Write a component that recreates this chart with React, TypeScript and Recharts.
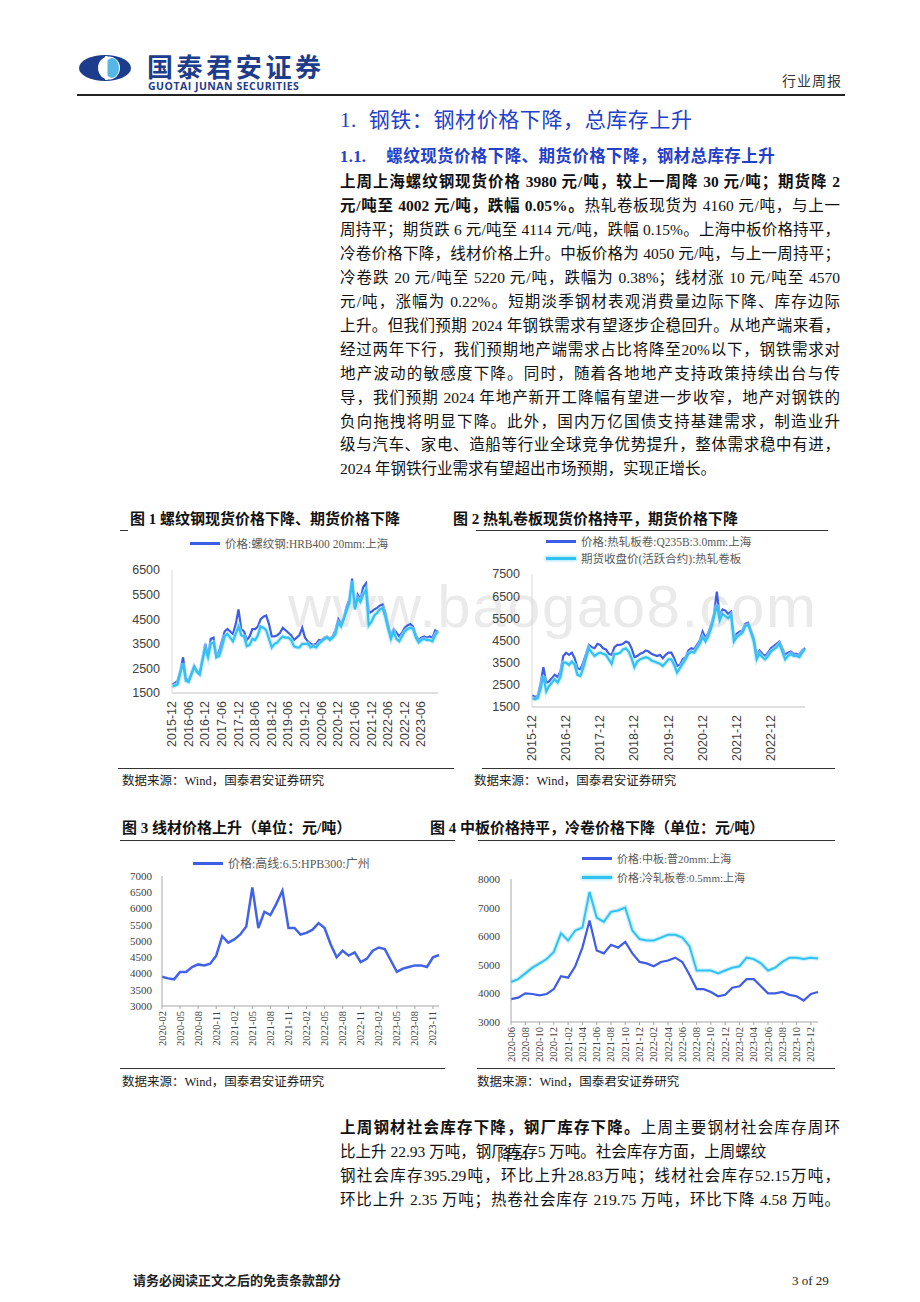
import React from "react";
import { LineChart, Line, XAxis, YAxis } from "recharts";

// 图1、图2 月度横轴
const monthsLong = [
  "2015-12",
  "2016-01", "2016-02", "2016-03", "2016-04", "2016-05", "2016-06", "2016-07", "2016-08", "2016-09", "2016-10", "2016-11", "2016-12",
  "2017-01", "2017-02", "2017-03", "2017-04", "2017-05", "2017-06", "2017-07", "2017-08", "2017-09", "2017-10", "2017-11", "2017-12",
  "2018-01", "2018-02", "2018-03", "2018-04", "2018-05", "2018-06", "2018-07", "2018-08", "2018-09", "2018-10", "2018-11", "2018-12",
  "2019-01", "2019-02", "2019-03", "2019-04", "2019-05", "2019-06", "2019-07", "2019-08", "2019-09", "2019-10", "2019-11", "2019-12",
  "2020-01", "2020-02", "2020-03", "2020-04", "2020-05", "2020-06", "2020-07", "2020-08", "2020-09", "2020-10", "2020-11", "2020-12",
  "2021-01", "2021-02", "2021-03", "2021-04", "2021-05", "2021-06", "2021-07", "2021-08", "2021-09", "2021-10", "2021-11", "2021-12",
  "2022-01", "2022-02", "2022-03", "2022-04", "2022-05", "2022-06", "2022-07", "2022-08", "2022-09", "2022-10", "2022-11", "2022-12",
  "2023-01", "2023-02", "2023-03", "2023-04", "2023-05", "2023-06", "2023-07", "2023-08", "2023-09", "2023-10", "2023-11", "2023-12",
];
const xTicks1 = [
  "2015-12", "2016-06", "2016-12", "2017-06", "2017-12", "2018-06", "2018-12", "2019-06",
  "2019-12", "2020-06", "2020-12", "2021-06", "2021-12", "2022-06", "2022-12", "2023-06",
];
const xTicks2 = ["2015-12", "2016-12", "2017-12", "2018-12", "2019-12", "2020-12", "2021-12", "2022-12"];

// 螺纹钢 HRB400 20mm 上海 现货
const rebarSpot = [
  1850,
  1900, 2000, 2400, 2950, 2100, 2000, 2300, 2600, 2400, 2300, 2900, 3500,
  3050, 3700, 3750, 3000, 3200, 3600, 4000, 4100, 4000, 3900, 4300, 4900,
  4100, 4000, 3650, 3800, 4100, 4100, 4200, 4500, 4600, 4650, 4300, 3800,
  3800, 3850, 3950, 4150, 4050, 3950, 3850, 3650, 3750, 3850, 4150, 3750,
  3600, 3500, 3450, 3500, 3650, 3650, 3750, 3800, 3700, 3800, 4050, 4500,
  4300, 4550, 5000, 5300, 6150, 5000, 5500, 5300, 5800, 5950, 4750, 4800,
  4900, 4950, 5050, 5100, 4750, 4250, 3850, 4100, 3950, 3800, 3950, 4150,
  4250, 4300, 4200, 3850, 3650, 3750, 3800, 3750, 3800, 3750, 4050, 3980,
];

// 螺纹钢期货
const rebarFutures = [
  1750,
  1800, 1850, 2300, 2700, 2000, 1950, 2250, 2550, 2350, 2250, 2800, 3300,
  2950, 3500, 3550, 2950, 3000, 3350, 3800, 3900, 3750, 3600, 3900, 4200,
  3850, 3800, 3400, 3450, 3700, 3650, 3850, 4200, 4150, 4050, 3700, 3350,
  3500, 3550, 3700, 3800, 3750, 3750, 3650, 3400, 3350, 3350, 3500, 3500,
  3500, 3350, 3400, 3350, 3500, 3600, 3700, 3750, 3650, 3750, 3900, 4350,
  4200, 4500, 4850, 5150, 6050, 4900, 5350, 5200, 5500, 5700, 4250, 4400,
  4650, 4750, 4900, 4950, 4600, 4100, 3700, 4000, 3700, 3600, 3800, 4000,
  4100, 4150, 4100, 3750, 3550, 3650, 3700, 3650, 3650, 3600, 3850, 4002,
];

// 热轧板卷 Q235B 3.0mm 上海 现货
const hrcSpot = [
  2030,
  1950, 2000, 2550, 3300, 2600, 2650, 2800, 2950, 2850, 3100, 3800, 3950,
  3850, 3950, 3700, 3250, 3200, 3500, 3900, 4300, 4200, 4150, 4350, 4300,
  4150, 4100, 3900, 3850, 4200, 4300, 4300, 4350, 4450, 4400, 4150, 3750,
  3800, 3900, 3950, 4050, 4000, 3900, 3850, 3800, 3850, 3700, 3850, 3950,
  3950, 3700, 3350, 3400, 3650, 3750, 4050, 4150, 4100, 4300, 4500, 4900,
  4600, 4850, 5200, 5700, 6700, 5600, 5900, 5850, 5700, 5800, 4600, 4800,
  4900, 4950, 5250, 5300, 4950, 4600, 3850, 4050, 3900, 3800, 3950, 4150,
  4250, 4350, 4450, 4150, 3850, 3950, 4000, 3900, 3900, 3850, 4050, 4160,
];

// 热轧卷板期货收盘价(活跃合约)
const hrcFutures = [
  1900,
  1850, 1900, 2300, 2900, 2200, 2450, 2600, 2750, 2600, 2850, 3500, 3500,
  3400, 3550, 3400, 2950, 2900, 3250, 3700, 4150, 3950, 3800, 3900, 3950,
  3900, 3850, 3650, 3450, 3900, 3900, 3950, 4100, 4150, 4000, 3700, 3300,
  3550, 3650, 3700, 3750, 3700, 3600, 3550, 3500, 3450, 3350, 3500, 3650,
  3650, 3400, 3050, 3250, 3450, 3650, 3900, 4000, 3950, 4150, 4350, 4650,
  4450, 4700, 5050, 5550, 6100, 5400, 5700, 5600, 5500, 5650, 4450, 4650,
  4750, 4850, 5150, 5200, 4850, 4450, 3650, 3900, 3750, 3650, 3800, 4000,
  4100, 4200, 4350, 4000, 3650, 3800, 3900, 3800, 3800, 3750, 3950, 4114,
];

// 图3 高线 6.5 HPB300 广州
const monthsWire = [
  "2020-02", "2020-03", "2020-04", "2020-05", "2020-06", "2020-07", "2020-08", "2020-09", "2020-10", "2020-11", "2020-12",
  "2021-01", "2021-02", "2021-03", "2021-04", "2021-05", "2021-06", "2021-07", "2021-08", "2021-09", "2021-10", "2021-11", "2021-12",
  "2022-01", "2022-02", "2022-03", "2022-04", "2022-05", "2022-06", "2022-07", "2022-08", "2022-09", "2022-10", "2022-11", "2022-12",
  "2023-01", "2023-02", "2023-03", "2023-04", "2023-05", "2023-06", "2023-07", "2023-08", "2023-09", "2023-10", "2023-11", "2023-12",
];
const wirePrice = [
  3900, 3850, 3820, 4050, 4050, 4200, 4280, 4250, 4300, 4550, 5150,
  4950, 5050, 5200, 5450, 6650, 5400, 5900, 5800, 6150, 6550, 5400, 5400,
  5200, 5250, 5350, 5550, 5400, 4900, 4500, 4700, 4550, 4650, 4350, 4450,
  4700, 4800, 4750, 4400, 4050, 4150, 4200, 4250, 4250, 4200, 4500, 4570,
];

// 图4 中板 普20mm 上海 / 冷轧板卷 0.5mm 上海
const monthsPlate = [
  "2020-06", "2020-07", "2020-08", "2020-09", "2020-10", "2020-11", "2020-12",
  "2021-01", "2021-02", "2021-03", "2021-04", "2021-05", "2021-06", "2021-07", "2021-08", "2021-09", "2021-10", "2021-11", "2021-12",
  "2022-01", "2022-02", "2022-03", "2022-04", "2022-05", "2022-06", "2022-07", "2022-08", "2022-09", "2022-10", "2022-11", "2022-12",
  "2023-01", "2023-02", "2023-03", "2023-04", "2023-05", "2023-06", "2023-07", "2023-08", "2023-09", "2023-10", "2023-11", "2023-12",
  "2024-01",
];
const platePrice = [
  3800, 3850, 4000, 3980, 3930, 3980, 4150,
  4600, 4550, 4950, 5600, 6550, 5500, 5400, 5700, 5600, 5800, 5400, 5100,
  5050, 4950, 5100, 5150, 5250, 5100, 4650, 4150, 4150, 4050, 3900, 3950,
  4200, 4250, 4500, 4500, 4250, 4000, 4000, 4050, 3950, 3900, 3750, 3980,
  4050,
];
const coldPrice = [
  4400, 4500, 4700, 4900, 5050, 5200, 5450,
  6100, 5850, 6200, 6300, 7550, 6650, 6500, 6850, 6900, 7000, 6200, 5900,
  5850, 5850, 5950, 6050, 6050, 5950, 5650, 4800, 4800, 4800, 4700, 4800,
  4900, 4950, 5250, 5200, 5050, 4800, 4900, 5100, 5250, 5250, 5200, 5250,
  5220,
];

const ticks1 = [1500, 2500, 3500, 4500, 5500, 6500];
const ticks2 = [1500, 2500, 3500, 4500, 5500, 6500, 7500];
const ticks3 = [3000, 3500, 4000, 4500, 5000, 5500, 6000, 6500, 7000];
const ticks4 = [3000, 4000, 5000, 6000, 7000, 8000];

const DARK = "#3f5ce6";
const LIGHT = "#31c2f3";
const GLOW = "#a8e6fb";
const SANS = "'Liberation Sans', Arial, 'Noto Sans CJK SC', sans-serif";
const SERIF = "'Liberation Serif', 'Times New Roman', 'Noto Sans CJK SC', serif";
const CJK = "'Liberation Serif', 'Noto Sans CJK SC', serif";

const data1 = monthsLong.map((m, i) => ({ m, spot: rebarSpot[i], fut: rebarFutures[i] }));
const data2 = monthsLong.map((m, i) => ({ m, spot: hrcSpot[i], fut: hrcFutures[i] }));
const data3 = monthsWire.map((m, i) => ({ m, wire: wirePrice[i] }));
const data4 = monthsPlate.map((m, i) => ({ m, plate: platePrice[i], cold: coldPrice[i] }));

const VTick = (props: any) => {
  const { x, y, payload, fs, ff } = props;
  return (
    <text
      x={x}
      y={y}
      transform={`rotate(-90 ${x} ${y})`}
      textAnchor="end"
      dominantBaseline="central"
      fontSize={fs}
      fontFamily={ff}
      fill="#404040"
    >
      {payload.value}
    </text>
  );
};

const Abs = ({ x, y, children, style }: any) => (
  <div style={{ position: "absolute", left: x, top: y, whiteSpace: "nowrap", ...style }}>{children}</div>
);

const HLine = ({ x1, x2, y, w = 1, color = "#333" }: any) => (
  <div style={{ position: "absolute", left: x1, top: y, width: x2 - x1, height: w, background: color }} />
);

const LegendItem = ({ x, y, color, glow, label, fs = 11.5, ff = CJK }: any) => (
  <div style={{ position: "absolute", left: x, top: y - 8, height: 16, display: "flex", alignItems: "center" }}>
    <div
      style={{
        width: 30,
        height: 3,
        background: color,
        boxShadow: glow ? `0 0 3px 1px ${GLOW}` : "none",
        marginRight: 5,
      }}
    />
    <span style={{ fontSize: fs, fontFamily: ff, color: "#595959", whiteSpace: "nowrap" }}>{label}</span>
  </div>
);

const BodyLine = ({ i, top, children, last }: any) => (
  <div
    style={{
      position: "absolute",
      left: 340,
      top: top + i * 23.95,
      width: 500,
      height: 24,
      lineHeight: "24px",
      fontSize: 15.5,
      fontFamily: CJK,
      color: "#111",
      textAlign: "justify",
      textAlignLast: last ? "left" : "justify",
    }}
  >
    {children}
  </div>
);

const bodyLines: any[] = [
  <b key="a">上周上海螺纹钢现货价格 3980 元/吨，较上一周降 30 元/吨；期货降 2</b>,
  <>
    <b>元/吨至 4002 元/吨，跌幅 0.05%。</b>热轧卷板现货为 4160 元/吨，与上一
  </>,
  "周持平；期货跌 6 元/吨至 4114 元/吨，跌幅 0.15%。上海中板价格持平，",
  "冷卷价格下降，线材价格上升。中板价格为 4050 元/吨，与上一周持平；",
  "冷卷跌 20 元/吨至 5220 元/吨，跌幅为 0.38%；线材涨 10 元/吨至 4570",
  "元/吨，涨幅为 0.22%。短期淡季钢材表观消费量边际下降、库存边际",
  "上升。但我们预期 2024 年钢铁需求有望逐步企稳回升。从地产端来看，",
  "经过两年下行，我们预期地产端需求占比将降至20%以下，钢铁需求对",
  "地产波动的敏感度下降。同时，随着各地地产支持政策持续出台与传",
  "导，我们预期 2024 年地产新开工降幅有望进一步收窄，地产对钢铁的",
  "负向拖拽将明显下降。此外，国内万亿国债支持基建需求，制造业升",
  "级与汽车、家电、造船等行业全球竞争优势提升，整体需求稳中有进，",
  "2024 年钢铁行业需求有望超出市场预期，实现正增长。",
];

export default function App() {
  return (
    <div style={{ position: "relative", width: 920, height: 1302, background: "#fff", overflow: "hidden", fontFamily: CJK }}>
      <style>{`body{margin:0}`}</style>

      {/* 页眉 */}
      <svg style={{ position: "absolute", left: 78, top: 54 }} width={54} height={28}>
        <ellipse cx={27} cy={14} rx={26} ry={13} fill="#1d3d8c" />
        <ellipse cx={31} cy={14} rx={11} ry={11.5} fill="#fff" />
        <ellipse cx={34} cy={14} rx={7} ry={10} fill="#56b6e6" />
        <rect x={27} y={2} width={2.5} height={24} fill="#fff" />
      </svg>
      <Abs x={147} y={51} style={{ fontSize: 26, fontWeight: 700, color: "#1d3d8c", fontFamily: "'Noto Sans CJK SC', sans-serif", letterSpacing: 3.6, lineHeight: "30px" }}>
        国泰君安证券
      </Abs>
      <Abs x={148} y={80} style={{ fontSize: 10.5, fontWeight: 700, color: "#1d3d8c", fontFamily: "'Open Sans', 'Liberation Sans', sans-serif", letterSpacing: 0.5, lineHeight: "12px" }}>
        GUOTAI JUNAN SECURITIES
      </Abs>
      <Abs x={782} y={73} style={{ fontSize: 14, color: "#333", lineHeight: "18px", letterSpacing: 1 }}>
        行业周报
      </Abs>
      <HLine x1={77} x2={845} y={94} w={2} color="#222" />

      {/* 标题 */}
      <Abs x={340} y={106} style={{ fontSize: 21, color: "#2440c8", lineHeight: "28px", letterSpacing: 0.6 }}>
        1.&nbsp;&nbsp;钢铁：钢材价格下降，总库存上升
      </Abs>
      <Abs x={340} y={146} style={{ fontSize: 16.5, fontWeight: 700, color: "#2440c8", lineHeight: "22px", letterSpacing: 0.4 }}>
        1.1.<span style={{ display: "inline-block", width: 20 }} />螺纹现货价格下降、期货价格下降，钢材总库存上升
      </Abs>

      {bodyLines.map((c, i) => (
        <BodyLine key={i} i={i} top={170} last={i === bodyLines.length - 1}>
          {c}
        </BodyLine>
      ))}

      {/* 水印 */}
      <Abs x={288} y={572} style={{ fontSize: 60, color: "rgba(190,190,190,0.33)", fontFamily: SANS, letterSpacing: 1.5, lineHeight: "70px" }}>
        www.baogao8.com
      </Abs>

      {/* 图1 */}
      <Abs x={130} y={509} style={{ fontSize: 15, fontWeight: 700, lineHeight: "20px", color: "#111" }}>
        图 1 螺纹钢现货价格下降、期货价格下降
      </Abs>
      <HLine x1={120} x2={128} y={530} />
      <LegendItem x={190} y={543} color={DARK} label="价格:螺纹钢:HRB400 20mm:上海" />
      <div style={{ position: "absolute", left: 120, top: 560 }}>
        <LineChart width={330} height={200} data={data1} margin={{ top: 10, right: 12, bottom: 0, left: 0 }}>
          <XAxis
            dataKey="m"
            ticks={xTicks1}
            interval={0}
            height={67}
            axisLine={{ stroke: "#bfbfbf" }}
            tickLine={false}
            tick={(p: any) => <VTick {...p} fs={12.5} ff={SANS} />}
          />
          <YAxis
            type="number"
            domain={[1500, 6500]}
            ticks={ticks1}
            interval={0}
            width={52}
            axisLine={{ stroke: "#d9d9d9" }}
            tickLine={false}
            tickMargin={6}
            tick={{ fontSize: 12.5, fontFamily: SANS, fill: "#404040" }}
          />
          <Line dataKey="spot" stroke={DARK} strokeWidth={2.2} dot={false} isAnimationActive={false} />
          <Line dataKey="fut" stroke={GLOW} strokeWidth={4.5} strokeOpacity={0.6} dot={false} isAnimationActive={false} />
          <Line dataKey="fut" stroke={LIGHT} strokeWidth={2.2} dot={false} isAnimationActive={false} />
        </LineChart>
      </div>
      <HLine x1={118} x2={454} y={768} />
      <Abs x={122} y={773} style={{ fontSize: 12.5, lineHeight: "16px", color: "#222" }}>
        数据来源：Wind，国泰君安证券研究
      </Abs>

      {/* 图2 */}
      <Abs x={453} y={509} style={{ fontSize: 15, fontWeight: 700, lineHeight: "20px", color: "#111", background: "#fff" }}>
        图 2 热轧卷板现货价格持平，期货价格下降
      </Abs>
      <HLine x1={476} x2={828} y={530} />
      <LegendItem x={546} y={541} color={DARK} label="价格:热轧板卷:Q235B:3.0mm:上海" />
      <LegendItem x={546} y={558} color={LIGHT} glow label="期货收盘价(活跃合约):热轧卷板" />
      <div style={{ position: "absolute", left: 465, top: 565 }}>
        <LineChart width={360} height={205} data={data2} margin={{ top: 9, right: 20, bottom: 0, left: 0 }}>
          <XAxis
            dataKey="m"
            ticks={xTicks2}
            interval={0}
            height={63}
            axisLine={{ stroke: "#bfbfbf" }}
            tickLine={false}
            tick={(p: any) => <VTick {...p} fs={12.5} ff={SANS} />}
          />
          <YAxis
            type="number"
            domain={[1500, 7500]}
            ticks={ticks2}
            interval={0}
            width={67}
            axisLine={{ stroke: "#d9d9d9" }}
            tickLine={false}
            tickMargin={6}
            tick={{ fontSize: 12.5, fontFamily: SANS, fill: "#404040" }}
          />
          <Line dataKey="spot" stroke={DARK} strokeWidth={2.2} dot={false} isAnimationActive={false} />
          <Line dataKey="fut" stroke={GLOW} strokeWidth={4.5} strokeOpacity={0.6} dot={false} isAnimationActive={false} />
          <Line dataKey="fut" stroke={LIGHT} strokeWidth={2.2} dot={false} isAnimationActive={false} />
        </LineChart>
      </div>
      <HLine x1={482} x2={835} y={768} />
      <Abs x={474} y={773} style={{ fontSize: 12.5, lineHeight: "16px", color: "#222" }}>
        数据来源：Wind，国泰君安证券研究
      </Abs>

      {/* 图3 */}
      <Abs x={122} y={818} style={{ fontSize: 15, fontWeight: 700, lineHeight: "20px", color: "#111" }}>
        图 3 线材价格上升（单位：元/吨）
      </Abs>
      <HLine x1={120} x2={455} y={840} />
      <LegendItem x={193} y={863} color={DARK} label="价格:高线:6.5:HPB300:广州" fs={12} />
      <div style={{ position: "absolute", left: 120, top: 866 }}>
        <LineChart width={330} height={190} data={data3} margin={{ top: 10, right: 11, bottom: 0, left: 0 }}>
          <XAxis
            dataKey="m"
            interval={2}
            height={50}
            axisLine={{ stroke: "#a6a6a6" }}
            tickLine={{ stroke: "#a6a6a6" }}
            tickSize={3}
            tick={(p: any) => <VTick {...p} fs={10.5} ff={SERIF} />}
          />
          <YAxis
            type="number"
            domain={[3000, 7000]}
            ticks={ticks3}
            interval={0}
            width={42}
            axisLine={{ stroke: "#a6a6a6" }}
            tickLine={false}
            tickMargin={4}
            tick={{ fontSize: 11, fontFamily: SERIF, fill: "#404040" }}
          />
          <Line dataKey="wire" stroke="#4263e8" strokeWidth={2.5} dot={false} isAnimationActive={false} />
        </LineChart>
      </div>
      <HLine x1={120} x2={445} y={1068} />
      <Abs x={122} y={1074} style={{ fontSize: 12.5, lineHeight: "16px", color: "#222" }}>
        数据来源：Wind，国泰君安证券研究
      </Abs>

      {/* 图4 */}
      <HLine x1={478} x2={835} y={840} />
      <Abs x={430} y={818} style={{ fontSize: 15, fontWeight: 700, lineHeight: "20px", color: "#111", background: "#fff", paddingRight: 2 }}>
        图 4 中板价格持平，冷卷价格下降（单位：元/吨）
      </Abs>
      <LegendItem x={582} y={858} color={DARK} label="价格:中板:普20mm:上海" fs={11} />
      <LegendItem x={582} y={877} color={LIGHT} glow label="价格:冷轧板卷:0.5mm:上海" fs={11} />
      <div style={{ position: "absolute", left: 425, top: 870 }}>
        <LineChart width={410} height={200} data={data4} margin={{ top: 9, right: 17, bottom: 0, left: 0 }}>
          <XAxis
            dataKey="m"
            interval={1}
            height={48}
            axisLine={{ stroke: "#a6a6a6" }}
            tickLine={{ stroke: "#a6a6a6" }}
            tickSize={3}
            tick={(p: any) => <VTick {...p} fs={10.5} ff={SERIF} />}
          />
          <YAxis
            type="number"
            domain={[3000, 8000]}
            ticks={ticks4}
            interval={0}
            width={86}
            axisLine={{ stroke: "#a6a6a6" }}
            tickLine={false}
            tickMargin={5}
            tick={{ fontSize: 11, fontFamily: SERIF, fill: "#404040" }}
          />
          <Line dataKey="plate" stroke={DARK} strokeWidth={2.2} dot={false} isAnimationActive={false} />
          <Line dataKey="cold" stroke={GLOW} strokeWidth={4.5} strokeOpacity={0.6} dot={false} isAnimationActive={false} />
          <Line dataKey="cold" stroke={LIGHT} strokeWidth={2} dot={false} isAnimationActive={false} />
        </LineChart>
      </div>
      <HLine x1={477} x2={835} y={1068} />
      <Abs x={477} y={1074} style={{ fontSize: 12.5, lineHeight: "16px", color: "#222" }}>
        数据来源：Wind，国泰君安证券研究
      </Abs>

      {/* 库存段落 */}
      <BodyLine i={0} top={1116}>
        <b>上周钢材社会库存下降，钢厂库存下降。</b>上周主要钢材社会库存周环
      </BodyLine>
      <BodyLine i={1} top={1116} last>
        比上升 22.93 万吨，钢
        <span style={{ position: "relative" }}>
          厂库存
          <span style={{ position: "absolute", left: 6, top: 0, letterSpacing: -2 }}>降 2.4</span>
        </span>
        5 万吨。社会库存方面，上周螺纹
      </BodyLine>
      <BodyLine i={2} top={1116}>
        钢社会库存395.29吨，环比上升28.83万吨；线材社会库存52.15万吨，
      </BodyLine>
      <BodyLine i={3} top={1116}>
        环比上升 2.35 万吨；热卷社会库存 219.75 万吨，环比下降 4.58 万吨。
      </BodyLine>

      {/* 页脚 */}
      <Abs x={133} y={1273} style={{ fontSize: 13, fontWeight: 700, lineHeight: "16px", color: "#222" }}>
        请务必阅读正文之后的免责条款部分
      </Abs>
      <Abs x={792} y={1273} style={{ fontSize: 13, fontFamily: SERIF, lineHeight: "16px", color: "#222" }}>
        3 of 29
      </Abs>
    </div>
  );
}
